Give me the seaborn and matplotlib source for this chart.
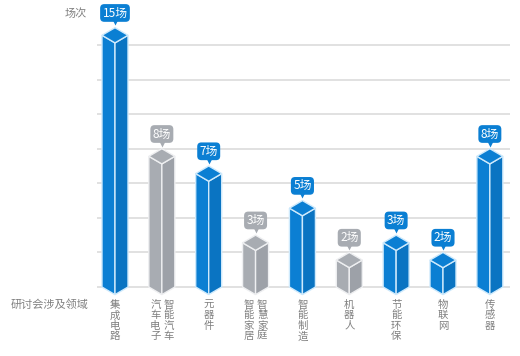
import numpy as np
import pandas as pd
import matplotlib
matplotlib.use('Agg')
import matplotlib.pyplot as plt
import matplotlib.transforms as mtransforms
from matplotlib.patches import Polygon
import seaborn as sns

# chart data
fields = ['集成电路', '汽车电子/智能汽车', '元器件', '智能家居/智慧家庭', '智能制造',
          '机器人', '节能环保', '物联网', '传感器']
label_columns = [['集成电路'], ['汽车电子', '智能汽车'], ['元器件'], ['智能家居', '智慧家庭'],
                 ['智能制造'], ['机器人'], ['节能环保'], ['物联网'], ['传感器']]
sessions = [15, 8, 7, 3, 5, 2, 3, 2, 8]
highlight = [True, False, True, False, True, False, True, True, True]

BLUE = '#0b7fd3'
BLUE_SIDE = '#0a74c2'
GRAY = '#a8acb2'
GRAY_SIDE = '#9da1a8'
TEXT = '#808080'

sns.set_theme(style='white')
plt.rcParams['font.family'] = ['Noto Sans CJK SC', 'DejaVu Sans']

df = pd.DataFrame({'field': fields, 'sessions': sessions})
colors = [BLUE if h else GRAY for h in highlight]

fig = plt.figure(figsize=(5.2, 3.56), dpi=100)
ax = fig.add_axes([97 / 520, 1 - 297.4 / 356, (510 - 97) / 520, 297.4 / 356])

sns.barplot(data=df, x='field', y='sessions', hue='field', palette=colors,
            legend=False, width=0.555, ax=ax, zorder=3)

ax.set_xlim(-0.384, 8.43)
ax.set_ylim(-0.6, 16.6)
ax.set_yticks(range(0, 15, 2))
ax.yaxis.grid(True, color='#dcdcdc', linewidth=1.2, zorder=0)
ax.set_axisbelow(True)
ax.tick_params(left=False, bottom=False, labelleft=False, labelbottom=False)
ax.set_xlabel('')
ax.set_ylabel('')
for s in ax.spines.values():
    s.set_visible(False)

d = 0.44  # depth of the prism top in data units
for patch, v, h in zip(ax.patches, sessions, highlight):
    x0 = patch.get_x()
    w = patch.get_width()
    xc = x0 + w / 2
    x1 = x0 + w
    top = patch.get_height()
    patch.set_visible(False)
    face = BLUE if h else GRAY
    side = BLUE_SIDE if h else GRAY_SIDE
    edge = '#cfeafc' if h else '#eeeff1'
    left = Polygon([(x0, 0), (x0, top - d), (xc, top - 2 * d), (xc, -d)], closed=True,
                   fc=face, ec=edge, lw=1.0, zorder=3)
    right = Polygon([(xc, -d), (xc, top - 2 * d), (x1, top - d), (x1, 0)], closed=True,
                    fc=side, ec=edge, lw=1.0, zorder=3)
    cap = Polygon([(x0, top - d), (xc, top), (x1, top - d), (xc, top - 2 * d)], closed=True,
                  fc=face, ec=edge, lw=1.0, zorder=4)
    for p in (left, right, cap):
        ax.add_patch(p)
    # callout label
    ax.plot(xc, top + 0.3, marker='v', ms=5, color=face, mec='none', zorder=5)
    ax.text(xc, top + 0.85, f'{v}场', ha='center', va='center', color='white',
            fontsize=8.5, zorder=6,
            bbox=dict(boxstyle='round,pad=0.2,rounding_size=0.35', fc=face, ec='none'))

# vertical category labels under the bars
trans = mtransforms.blended_transform_factory(ax.transData, fig.transFigure)
for i, cols in enumerate(label_columns):
    n = len(cols)
    for j, col in enumerate(cols):
        dx = (j - (n - 1) / 2) * 0.28
        ax.text(i + dx, 1 - 300 / 356, '\n'.join(col), transform=trans,
                ha='center', va='top', fontsize=7.5, color=TEXT, linespacing=1.05)

fig.text(76 / 520, 1 - 14 / 356, '场次', ha='center', va='center', fontsize=8, color=TEXT)
fig.text(50 / 520, 1 - 305 / 356, '研讨会涉及领域', ha='center', va='center', fontsize=8, color=TEXT)

fig.savefig('out.png', dpi=100)
